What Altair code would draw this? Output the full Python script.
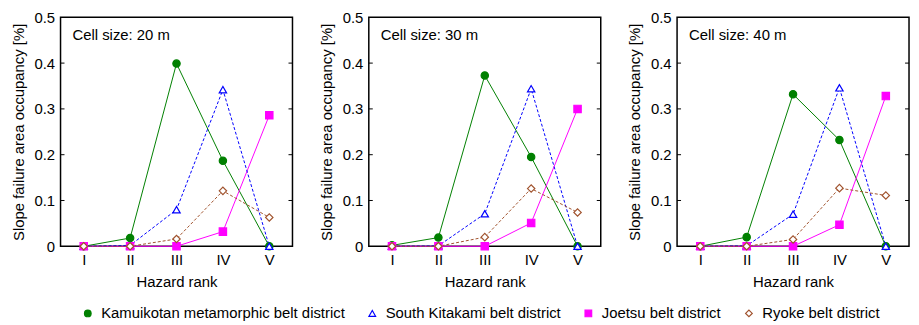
import altair as alt
import pandas as pd

ranks = ["I", "II", "III", "IV", "V"]
series = ["Kamuikotan metamorphic belt district", "South Kitakami belt district",
          "Joetsu belt district", "Ryoke belt district"]
dashed_series = ["South Kitakami belt district", "Ryoke belt district"]
cell_sizes = ["Cell size: 20 m", "Cell size: 30 m", "Cell size: 40 m"]

kamui_20 = [0.0, 0.018, 0.399, 0.187, 0.0]
kita_20 = [0.0, 0.002, 0.080, 0.342, 0.0]
joetsu_20 = [0.0, 0.0, 0.0, 0.032, 0.286]
ryoke_20 = [0.0, 0.0, 0.016, 0.121, 0.063]

kamui_30 = [0.002, 0.019, 0.373, 0.195, 0.0]
kita_30 = [0.0, 0.001, 0.071, 0.344, 0.0]
joetsu_30 = [0.0, 0.0, 0.0, 0.051, 0.300]
ryoke_30 = [0.0, 0.0, 0.020, 0.126, 0.074]

kamui_40 = [0.0, 0.020, 0.332, 0.232, 0.0]
kita_40 = [0.0, 0.001, 0.070, 0.346, 0.0]
joetsu_40 = [0.0, 0.0, 0.0, 0.047, 0.328]
ryoke_40 = [0.0, 0.0, 0.015, 0.127, 0.111]

panel_values = [
    [kamui_20, kita_20, joetsu_20, ryoke_20],
    [kamui_30, kita_30, joetsu_30, ryoke_30],
    [kamui_40, kita_40, joetsu_40, ryoke_40],
]

y_ticks = [0.1, 0.2, 0.3, 0.4]

stroke_colors = ["#008000", "#0000ff", "#ff00ff", "#a0522d"]
fill_colors = ["#008000", "#ffffff", "#ff00ff", "#ffffff"]
shapes = ["circle", "triangle-up", "square", "diamond"]

FONT = "Liberation Sans"
W, H = 234, 231

stroke_scale = alt.Scale(domain=series, range=stroke_colors)
fill_scale = alt.Scale(domain=series, range=fill_colors)
shape_scale = alt.Scale(domain=series, range=shapes)

x_enc = alt.X("rank:O", sort=ranks,
              scale=alt.Scale(type="point", domain=ranks, padding=0.5),
              axis=alt.Axis(title="Hazard rank", labelAngle=0, ticks=False,
                            domain=False, labelPadding=6, titlePadding=8,
                            labelFontSize=15, titleFontSize=15,
                            labelFont=FONT, titleFont=FONT,
                            labelColor="black", titleColor="black",
                            titleFontWeight="normal"))
y_scale = alt.Scale(domain=[0, 0.5], nice=False, zero=True)

legend = alt.Legend(title=None, orient="none", direction="horizontal",
                    legendX=20, legendY=291, labelFontSize=15,
                    labelFont=FONT, labelColor="black", symbolSize=45,
                    symbolStrokeWidth=1.2, columnPadding=20,
                    labelOffset=6, labelLimit=400)


def panel(i):
    rows = []
    for s, vals in zip(series, panel_values[i]):
        for r, v in zip(ranks, vals):
            rows.append({"rank": r, "series": s, "value": v})
    df = pd.DataFrame(rows)
    y_enc = alt.Y("value:Q", scale=y_scale,
                  axis=alt.Axis(title="Slope failure area occupancy [%]",
                                values=[0, 0.1, 0.2, 0.3, 0.4, 0.5],
                                format=".1~f", ticks=False, domain=False,
                                grid=False, labelPadding=6, titlePadding=8,
                                labelFontSize=15, titleFontSize=15,
                                labelFont=FONT, titleFont=FONT,
                                labelColor="black", titleColor="black",
                                titleFontWeight="normal"))
    base = alt.Chart(df).transform_calculate(
        rank_idx="indexof(['I','II','III','IV','V'], datum.rank)",
        dashed="indexof(['South Kitakami belt district','Ryoke belt district'], datum.series) >= 0",
    )
    solid_lines = base.transform_filter("!datum.dashed").mark_line(strokeWidth=1).encode(
        x=x_enc, y=y_enc,
        color=alt.Color("series:N", scale=stroke_scale, legend=legend, sort=series),
        order=alt.Order("rank_idx:Q"),
    )
    dashed_lines = base.transform_filter("datum.dashed").mark_line(
        strokeWidth=1, strokeDash=[3, 2]).encode(
        x=x_enc, y=y_enc,
        color=alt.Color("series:N", scale=stroke_scale, legend=legend, sort=series),
        order=alt.Order("rank_idx:Q"),
    )
    points = base.mark_point(size=55, strokeWidth=1.2, opacity=1).encode(
        x=x_enc, y=y_enc,
        color=alt.Color("series:N", scale=stroke_scale, legend=legend, sort=series),
        fill=alt.Fill("series:N", scale=fill_scale, legend=legend, sort=series),
        shape=alt.Shape("series:N", scale=shape_scale, legend=legend, sort=series),
    )
    tick_df = pd.DataFrame({"t": y_ticks})
    left_ticks = alt.Chart(tick_df).mark_rule(color="black", strokeWidth=1).encode(
        y=alt.Y("t:Q", scale=y_scale), x=alt.value(0), x2=alt.value(4))
    right_ticks = alt.Chart(tick_df).mark_rule(color="black", strokeWidth=1).encode(
        y=alt.Y("t:Q", scale=y_scale), x=alt.value(W - 4), x2=alt.value(W))
    label = alt.Chart(pd.DataFrame({"txt": [cell_sizes[i]]})).mark_text(
        align="left", baseline="middle", fontSize=15, font=FONT, color="black"
    ).encode(text="txt:N", x=alt.value(12), y=alt.value(18))
    return alt.layer(solid_lines, dashed_lines, points, left_ticks, right_ticks,
                     label).properties(width=W, height=H)


chart = alt.hconcat(panel(0), panel(1), panel(2), spacing=24).resolve_scale(
    color="shared", fill="shared", shape="shared"
).configure_view(stroke="black", strokeWidth=1.5).properties(
    padding={"left": 2, "top": 0, "right": 0, "bottom": 0},
)

chart.save("out.html", embed_options={"renderer": "svg", "actions": False})
